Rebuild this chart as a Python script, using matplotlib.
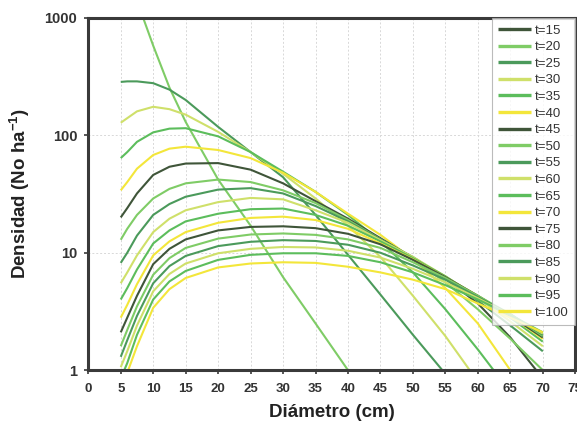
import numpy as np
import matplotlib
matplotlib.use("Agg")
from matplotlib import pyplot as plt

# ---------------------------- data ----------------------------
diam = [5, 6, 7.5, 10, 12.5, 15, 20, 25, 30, 35, 40, 45, 50, 55, 60, 65, 70]
nan = np.nan

ages = [15, 20, 25, 30, 35, 40, 45, 50, 55, 60, 65, 70, 75, 80, 85, 90, 95, 100]

dens_t15 = [nan] * 17  # not visible inside the plotted range
dens_t20 = [3800, 2500, 1400, 580, 255, 130, 42, 17, 6.2, 2.5, 1.0, 0.4, nan, nan, nan, nan, nan]
dens_t25 = [285, 288, 288, 278, 245, 200, 118, 72, 44, 21, 9.6, 4.4, 2.0, 0.93, 0.43, nan, nan]
dens_t30 = [128, 140, 160, 175, 167, 150, 107, 72, 47, 29, 17, 9.2, 4.3, 1.95, 0.8, nan, nan]
dens_t35 = [64, 72, 88, 106, 114, 115, 98, 72, 49, 33, 21, 12.5, 6.8, 3.3, 1.5, 0.65, nan]
dens_t40 = [34, 40, 52, 68, 77, 80, 75, 64, 48, 33, 21.5, 14.2, 8.8, 5.0, 2.5, 1.0, 0.4]
dens_t45 = [20, 24, 32, 46, 54, 57.5, 58, 51, 39, 27.5, 19.5, 13.3, 9.0, 6.0, 3.7, 1.9, 0.85]
dens_t50 = [12.9, 16, 21, 29, 35, 39, 42, 40, 34, 26.5, 19, 13, 8.8, 5.6, 3.3, 1.85, 1.0]
dens_t55 = [8.2, 10, 14, 21, 26, 30, 34.5, 35.5, 32, 25, 18.5, 13, 9.2, 6.1, 3.9, 2.4, 1.45]
dens_t60 = [5.5, 6.8, 9.5, 15, 19.5, 23, 27, 29.3, 28.5, 23, 18, 12.8, 9.2, 6.3, 4.1, 2.6, 1.6]
dens_t65 = [4.0, 5.0, 7.2, 12, 15.5, 18.5, 21.5, 23.5, 23.8, 21, 17, 12.5, 9.0, 6.3, 4.2, 2.8, 1.75]
dens_t70 = [2.8, 3.6, 5.4, 9.5, 12.5, 15, 18, 19.8, 20.3, 19, 16, 12, 8.8, 6.2, 4.3, 2.9, 1.85]
dens_t75 = [2.1, 2.8, 4.3, 8.0, 10.8, 13, 15.5, 16.6, 16.8, 16.2, 14.5, 11.8, 8.7, 6.2, 4.3, 2.9, 1.9]
dens_t80 = [1.6, 2.2, 3.5, 6.5, 9.0, 11, 13.2, 14.3, 14.6, 14.2, 13, 11, 8.3, 6.1, 4.3, 3.0, 1.95]
dens_t85 = [1.3, 1.8, 2.9, 5.5, 7.7, 9.4, 11.4, 12.4, 12.8, 12.6, 11.7, 10, 7.8, 5.9, 4.2, 3.0, 2.0]
dens_t90 = [1.06, 1.45, 2.4, 4.7, 6.6, 8.1, 9.9, 10.8, 11.2, 11.1, 10.4, 9.1, 7.3, 5.6, 4.1, 2.95, 2.05]
dens_t95 = [0.85, 1.15, 2.0, 4.0, 5.7, 7.0, 8.7, 9.6, 9.9, 9.9, 9.4, 8.3, 6.8, 5.3, 4.0, 2.95, 2.1]
dens_t100 = [0.6, 0.95, 1.6, 3.4, 4.9, 6.1, 7.5, 8.1, 8.3, 8.2, 7.6, 6.8, 5.9, 4.9, 3.7, 2.8, 2.1]

series = [dens_t15, dens_t20, dens_t25, dens_t30, dens_t35, dens_t40,
          dens_t45, dens_t50, dens_t55, dens_t60, dens_t65, dens_t70,
          dens_t75, dens_t80, dens_t85, dens_t90, dens_t95, dens_t100]

x_ticks = list(range(0, 80, 5))
y_ticks = [1, 10, 100, 1000]

# six colours, repeated for every block of six ages
palette = ["#3f5539", "#7fcc66", "#4b9a5b", "#cfe06a", "#5cbd5c", "#f3e63a"]

# ------------------------------------ PLOT ------------------------------------
plt.rcParams["font.family"] = ["Liberation Sans", "DejaVu Sans"]
plt.rcParams["mathtext.fontset"] = "custom"
plt.rcParams["mathtext.bf"] = "Liberation Sans:bold"
plt.rcParams["mathtext.rm"] = "Liberation Sans:bold"

fig = plt.figure(figsize=(5.77, 4.26), dpi=100)
ax = fig.add_axes([0.153, 0.131, 0.844, 0.827])

for i, (age, vals) in enumerate(zip(ages, series)):
    ax.plot(diam, vals, color=palette[i % 6], lw=1.5, label=f"t={age}", solid_capstyle="butt")

ax.set_yscale("log")
ax.set_xlim(0, 75)
ax.set_ylim(1, 1000)
ax.set_xticks(x_ticks)
ax.set_xticklabels([str(v) for v in x_ticks])
ax.set_yticks(y_ticks)
ax.set_yticklabels([str(v) for v in y_ticks])
ax.yaxis.set_minor_locator(matplotlib.ticker.NullLocator())

ax.grid(True, which="major", color="#d8d8d8", ls=(0, (2, 2)), lw=0.7)
ax.set_axisbelow(True)

for side in ["left", "bottom", "top", "right"]:
    ax.spines[side].set_linewidth(2.2)
    ax.spines[side].set_color("#3a3a3a")

ax.tick_params(axis="x", direction="out", length=3, width=1.2, color="#3a3a3a",
               labelsize=9.5, pad=6)
ax.tick_params(axis="y", direction="out", length=3, width=1.2, color="#3a3a3a",
               labelsize=10.5, pad=5)
for lab in ax.get_xticklabels() + ax.get_yticklabels():
    lab.set_fontweight("bold")
    lab.set_color("#333333")

ax.set_xlabel("Diámetro (cm)", fontsize=13.5, fontweight="bold", color="#222222", labelpad=7)
ax.set_ylabel("Densidad (No ha$^{\\mathrm{-1}}$)", fontsize=13.5, fontweight="bold",
              color="#222222", labelpad=9)

leg = ax.legend(loc="upper left", bbox_to_anchor=(0.828, 1.0), borderaxespad=0,
                fontsize=9.5, frameon=True, fancybox=False, handlelength=2.5,
                labelspacing=0.33, handletextpad=0.3, borderpad=0.5)
leg.get_frame().set_edgecolor("#aaaaaa")
leg.get_frame().set_linewidth(0.8)
for txt in leg.get_texts():
    txt.set_color("#333333")
for ln in leg.get_lines():
    ln.set_linewidth(2.4)

fig.savefig("out.png", dpi=100)
